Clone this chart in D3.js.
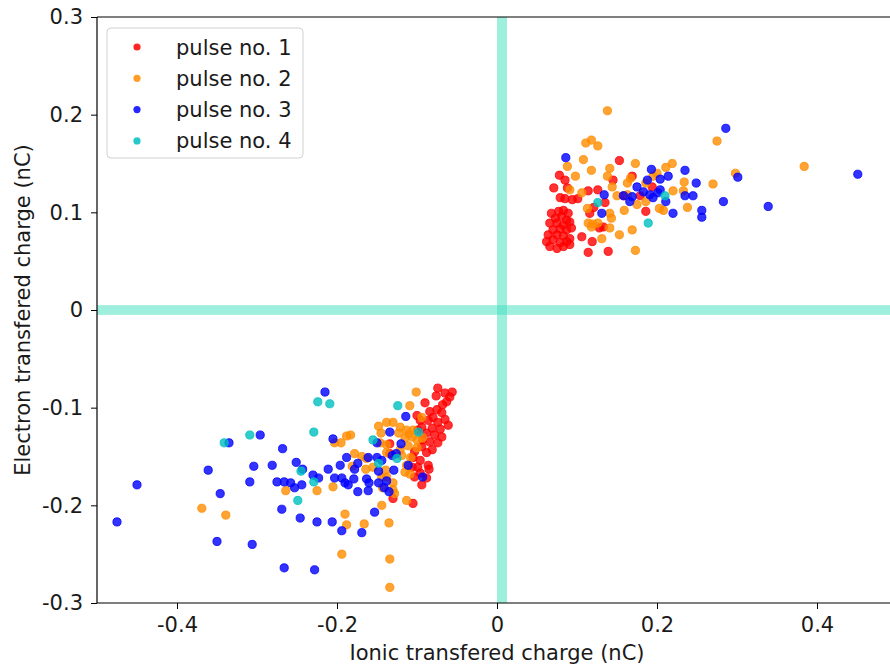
<!DOCTYPE html>
<html>
<head>
<meta charset="utf-8">
<script src="https://cdn.jsdelivr.net/npm/d3@7/dist/d3.min.js"></script>
<style>
  html, body { margin: 0; padding: 0; background: #fff; }
  svg { display: block; }
  text { font-family: "DejaVu Sans", sans-serif; fill: #1a1a1a; }
</style>
</head>
<body>
<svg id="chart" width="890" height="664"></svg>
<script>
// Transferred charge per event, [ionic (nC), electron (nC)], one list per pulse
const pulse1 = [
  [0.153,0.153],[0.078,0.138],[0.085,0.133],[0.145,0.133],[0.169,0.137],[0.071,0.125],
  [0.088,0.125],[0.114,0.122],[0.126,0.123],[0.079,0.115],[0.085,0.114],[0.094,0.113],
  [0.101,0.114],[0.135,0.110],[0.121,0.105],[0.186,0.101],[0.194,0.126],[0.159,0.117],
  [0.179,0.117],[0.128,0.084],[0.133,0.085],[0.106,0.075],[0.119,0.070],[0.114,0.059],
  [0.139,0.060],[0.116,0.099],
  [0.068,0.099],[0.077,0.101],[0.083,0.102],[0.089,0.099],[0.073,0.094],[0.081,0.096],
  [0.087,0.092],[0.066,0.089],[0.075,0.089],[0.083,0.087],[0.091,0.090],[0.070,0.082],
  [0.079,0.083],[0.087,0.082],[0.093,0.084],[0.064,0.077],[0.075,0.077],[0.083,0.076],
  [0.091,0.073],[0.062,0.070],[0.070,0.072],[0.079,0.069],[0.087,0.070],[0.066,0.065],
  [0.075,0.063],[0.083,0.065],[0.091,0.067],
  [-0.074,-0.080],[-0.065,-0.085],[-0.059,-0.089],[-0.063,-0.094],[-0.068,-0.097],
  [-0.075,-0.102],[-0.084,-0.104],[-0.090,-0.095],[-0.080,-0.110],[-0.069,-0.105],
  [-0.086,-0.113],[-0.074,-0.115],[-0.065,-0.112],[-0.094,-0.120],[-0.081,-0.121],
  [-0.071,-0.122],[-0.088,-0.126],[-0.078,-0.128],[-0.069,-0.130],[-0.096,-0.113],
  [-0.084,-0.135],[-0.093,-0.133],[-0.074,-0.136],[-0.094,-0.140],[-0.081,-0.143],
  [-0.088,-0.146],[-0.103,-0.145],[-0.096,-0.154],[-0.106,-0.161],[-0.099,-0.161],
  [-0.086,-0.159],[-0.085,-0.163],[-0.096,-0.167],[-0.103,-0.171],[-0.088,-0.172],
  [-0.094,-0.179],[-0.130,-0.193],[-0.105,-0.198],[-0.134,-0.137],[-0.134,-0.147],
  [-0.105,-0.151],[-0.100,-0.108],[-0.056,-0.084],[-0.061,-0.118],[-0.076,-0.088],
  [-0.099,-0.123]
];

const pulse2 = [
  [0.138,0.204],[0.111,0.171],[0.118,0.174],[0.126,0.168],[0.275,0.173],[0.088,0.147],
  [0.108,0.154],[0.173,0.150],[0.141,0.145],[0.118,0.143],[0.211,0.146],[0.219,0.150],
  [0.098,0.137],[0.138,0.137],[0.167,0.135],[0.195,0.137],[0.200,0.140],[0.234,0.131],
  [0.270,0.129],[0.091,0.123],[0.106,0.120],[0.144,0.126],[0.163,0.130],[0.186,0.130],
  [0.220,0.122],[0.233,0.122],[0.150,0.117],[0.163,0.118],[0.175,0.108],[0.186,0.111],
  [0.159,0.102],[0.203,0.104],[0.208,0.102],[0.238,0.105],[0.113,0.104],[0.114,0.089],
  [0.120,0.088],[0.126,0.089],[0.118,0.085],[0.143,0.094],[0.141,0.084],[0.131,0.073],
  [0.153,0.077],[0.169,0.082],[0.173,0.061],[0.384,0.147],[0.298,0.140],[0.141,0.099],
  [-0.101,-0.084],[-0.109,-0.098],[-0.094,-0.110],[-0.203,-0.136],[-0.195,-0.136],
  [-0.188,-0.129],[-0.183,-0.128],[-0.148,-0.119],[-0.138,-0.115],[-0.130,-0.115],
  [-0.121,-0.120],[-0.123,-0.126],[-0.110,-0.127],[-0.145,-0.126],[-0.146,-0.136],
  [-0.138,-0.138],[-0.111,-0.139],[-0.100,-0.133],[-0.093,-0.131],[-0.178,-0.147],
  [-0.169,-0.150],[-0.163,-0.152],[-0.138,-0.146],[-0.119,-0.149],[-0.108,-0.151],
  [-0.155,-0.161],[-0.181,-0.160],[-0.164,-0.163],[-0.139,-0.164],[-0.113,-0.159],
  [-0.115,-0.166],[-0.109,-0.168],[-0.144,-0.171],[-0.130,-0.177],[-0.205,-0.181],
  [-0.225,-0.185],[-0.264,-0.185],[-0.128,-0.188],[-0.113,-0.195],[-0.144,-0.200],
  [-0.190,-0.209],[-0.188,-0.220],[-0.166,-0.219],[-0.135,-0.218],[-0.194,-0.250],
  [-0.134,-0.255],[-0.134,-0.284],[-0.369,-0.203],[-0.339,-0.210],[-0.113,-0.123],
  [-0.105,-0.123],[-0.106,-0.130],[-0.115,-0.131],[-0.121,-0.143],[-0.100,-0.141],
  [-0.138,-0.171],[-0.143,-0.182],[-0.130,-0.184]
];

const pulse3 = [
  [0.086,0.156],[0.193,0.144],[0.235,0.143],[0.188,0.133],[0.204,0.134],[0.214,0.137],
  [0.249,0.130],[0.286,0.186],[0.451,0.139],[0.301,0.136],[0.283,0.111],[0.339,0.106],
  [0.256,0.102],[0.256,0.095],[0.134,0.118],[0.131,0.099],[0.158,0.117],[0.169,0.116],
  [0.166,0.111],[0.175,0.126],[0.183,0.121],[0.191,0.118],[0.195,0.115],[0.201,0.120],
  [0.204,0.123],[0.211,0.111],[0.235,0.117],[0.245,0.117],[0.220,0.099],
  [-0.215,-0.084],[-0.114,-0.109],[-0.205,-0.132],[-0.268,-0.142],[-0.134,-0.125],
  [-0.150,-0.136],[-0.120,-0.137],[-0.188,-0.151],[-0.161,-0.151],[-0.150,-0.151],
  [-0.144,-0.154],[-0.131,-0.149],[-0.126,-0.147],[-0.251,-0.156],[-0.174,-0.157],
  [-0.196,-0.159],[-0.211,-0.163],[-0.178,-0.163],[-0.148,-0.165],[-0.129,-0.164],
  [-0.111,-0.159],[-0.243,-0.163],[-0.230,-0.169],[-0.223,-0.172],[-0.203,-0.172],
  [-0.194,-0.172],[-0.190,-0.177],[-0.186,-0.179],[-0.179,-0.173],[-0.163,-0.173],
  [-0.160,-0.177],[-0.148,-0.177],[-0.138,-0.175],[-0.141,-0.182],[-0.135,-0.186],
  [-0.258,-0.177],[-0.253,-0.182],[-0.244,-0.179],[-0.266,-0.176],[-0.174,-0.186],
  [-0.161,-0.185],[-0.269,-0.204],[-0.153,-0.207],[-0.246,-0.213],[-0.225,-0.217],
  [-0.206,-0.217],[-0.194,-0.226],[-0.169,-0.228],[-0.266,-0.264],[-0.228,-0.266],
  [-0.450,-0.179],[-0.475,-0.217],[-0.296,-0.128],[-0.335,-0.136],[-0.361,-0.164],
  [-0.304,-0.160],[-0.281,-0.159],[-0.309,-0.176],[-0.275,-0.176],[-0.346,-0.188],
  [-0.350,-0.237],[-0.306,-0.240],[-0.093,-0.171]
];

const pulse4 = [
  [0.126,0.110],[0.210,0.117],[0.189,0.089],
  [-0.309,-0.128],[-0.341,-0.136],[-0.224,-0.094],[-0.209,-0.096],[-0.229,-0.125],
  [-0.155,-0.133],[-0.124,-0.098],[-0.098,-0.125],[-0.148,-0.157],[-0.125,-0.152],
  [-0.245,-0.165],[-0.229,-0.176],[-0.249,-0.195]
];

const seriesNames = ["pulse no. 1", "pulse no. 2", "pulse no. 3", "pulse no. 4"];
const seriesColors = ["#ff0000", "#ff8c00", "#0000ff", "#00bfbf"];
const xTicks = [-0.4, -0.2, 0, 0.2, 0.4];
const xTickLabels = ["-0.4", "-0.2", "0", "0.2", "0.4"];
const yTicks = [-0.3, -0.2, -0.1, 0, 0.1, 0.2, 0.3];
const yTickLabels = ["-0.3", "-0.2", "-0.1", "0", "0.1", "0.2", "0.3"];
// Highlighted bands: ionic strip and electron strip around zero
const xBand = [0, 0.0125];
const yBand = [-0.005, 0.005];

const allSeries = [pulse1, pulse2, pulse3, pulse4];

const svg = d3.select("#chart");
const H = 664;
const m = { left: 97, top: 17, bottom: 61 };
const plotRight = 897;
const FS = 21;

const x = d3.scaleLinear().domain([-0.5, 0.5]).range([m.left, plotRight]);
const y = d3.scaleLinear().domain([-0.3, 0.3]).range([H - m.bottom, m.top]);

// zero-crossing bands
const bandColor = "rgb(64,224,190)";
svg.append("rect")
  .attr("x", x(xBand[0])).attr("width", x(xBand[1]) - x(xBand[0]))
  .attr("y", y(0.3)).attr("height", y(-0.3) - y(0.3))
  .attr("fill", bandColor).attr("fill-opacity", 0.5);
svg.append("rect")
  .attr("x", x(-0.5)).attr("width", x(0.5) - x(-0.5))
  .attr("y", y(yBand[1])).attr("height", y(yBand[0]) - y(yBand[1]))
  .attr("fill", bandColor).attr("fill-opacity", 0.5);

// scatter points (semi-transparent face with a matching edge)
allSeries.forEach((data, i) => {
  svg.append("g")
    .selectAll("circle")
    .data(data)
    .join("circle")
    .attr("cx", d => x(d[0]))
    .attr("cy", d => y(d[1]))
    .attr("r", 4.1)
    .attr("fill", seriesColors[i])
    .attr("fill-opacity", 0.8)
    .attr("stroke", seriesColors[i])
    .attr("stroke-opacity", 0.8)
    .attr("stroke-width", 1);
});

// axes
const xAxis = d3.axisBottom(x).tickValues(xTicks)
  .tickFormat((d, i) => xTickLabels[i]).tickSize(6).tickPadding(8);
const yAxis = d3.axisLeft(y).tickValues(yTicks)
  .tickFormat((d, i) => yTickLabels[i]).tickSize(6).tickPadding(8);

const gx = svg.append("g").attr("transform", `translate(0,${y(-0.3)})`).call(xAxis);
const gy = svg.append("g").attr("transform", `translate(${x(-0.5)},0)`).call(yAxis);
[gx, gy].forEach(g => {
  g.select(".domain").remove();
  g.selectAll(".tick line").attr("stroke", "#000").attr("stroke-width", 1);
  g.selectAll(".tick text").attr("font-size", FS).attr("font-family", "DejaVu Sans").attr("fill", "#1a1a1a");
});

// spines
const spine = svg.append("g").attr("stroke", "#000").attr("stroke-width", 1.2).attr("fill", "none");
spine.append("line").attr("x1", x(-0.5)).attr("x2", x(0.5)).attr("y1", y(-0.3)).attr("y2", y(-0.3));
spine.append("line").attr("x1", x(-0.5)).attr("x2", x(0.5)).attr("y1", y(0.3)).attr("y2", y(0.3));
spine.append("line").attr("x1", x(-0.5)).attr("x2", x(-0.5)).attr("y1", y(-0.3)).attr("y2", y(0.3));
spine.append("line").attr("x1", x(0.5)).attr("x2", x(0.5)).attr("y1", y(-0.3)).attr("y2", y(0.3));

// axis titles
svg.append("text")
  .attr("x", x(0)).attr("y", 660)
  .attr("text-anchor", "middle").attr("font-size", FS)
  .text("Ionic transfered charge (nC)");
svg.append("text")
  .attr("transform", `translate(30,${y(0)}) rotate(-90)`)
  .attr("text-anchor", "middle").attr("font-size", FS)
  .text("Electron transfered charge (nC)");

// legend
const lg = svg.append("g").attr("transform", "translate(107,28)");
lg.append("rect")
  .attr("width", 196).attr("height", 130).attr("rx", 4)
  .attr("fill", "#fff").attr("fill-opacity", 0.8)
  .attr("stroke", "#d0d0d0").attr("stroke-width", 1);
seriesNames.forEach((name, i) => {
  const cy = 19 + i * 31.3;
  lg.append("circle").attr("cx", 30).attr("cy", cy).attr("r", 3.6)
    .attr("fill", seriesColors[i]).attr("fill-opacity", 0.85);
  lg.append("text").attr("x", 69).attr("y", cy + 7.5)
    .attr("font-size", FS).text(name);
});
</script>
</body>
</html>
